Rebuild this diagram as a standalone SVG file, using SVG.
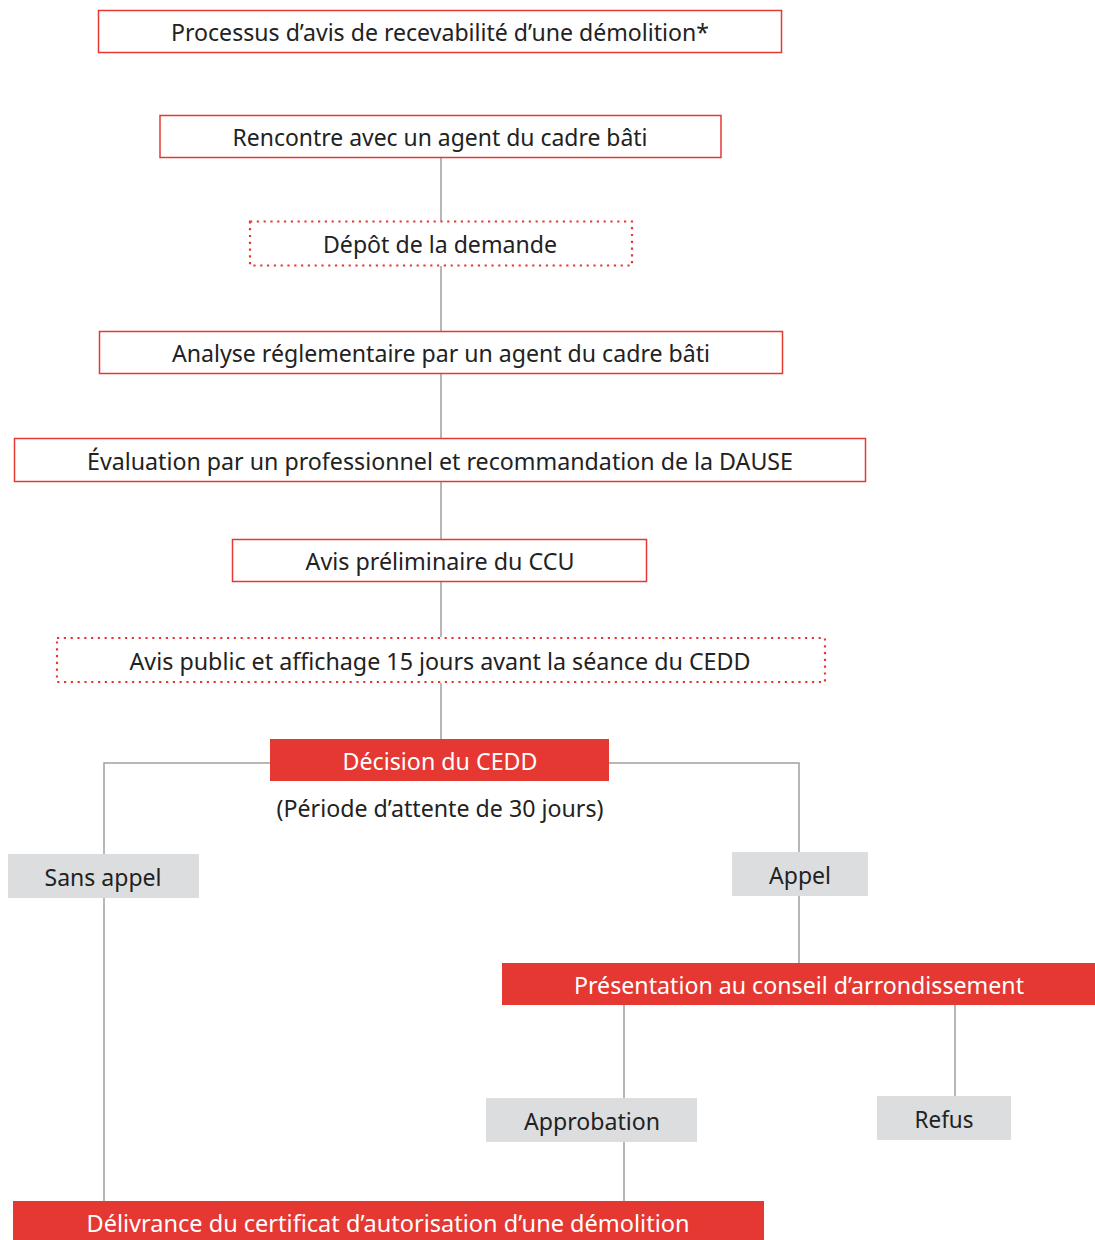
<svg xmlns="http://www.w3.org/2000/svg" width="1095" height="1240" viewBox="0 0 1095 1240">
<style>
.box{fill:#fff;stroke:#e53832;stroke-width:1.5}
.dot{fill:#fff;stroke:#e53832;stroke-width:2.2;stroke-dasharray:2.2 4.6}
.red{fill:#e53832}
.gray{fill:#dcdddf}
.t{font-family:"Noto Sans","Open Sans","DejaVu Sans",sans-serif;font-size:23px;fill:#222;text-anchor:middle}
.w{fill:#fff}
.c{stroke:#a0a0a0;stroke-width:1.5;fill:none}
</style>
<rect width="1095" height="1240" fill="#fff"/>
<g id="connectors">
<path class="c" d="M441 158V221M441 266V331M441 374V438M441 482V539M441 582V637M441 683V739"/>
<path class="c" d="M270 763H104V854M609 763H799V852M799 896V963M104 898V1201M624 1005V1098M624 1142V1201M955 1005V1096"/>
</g>
<g id="title"><rect class="box" x="98.5" y="10.5" width="683" height="42"/><text class="t" x="440" y="41" textLength="538" lengthAdjust="spacingAndGlyphs">Processus d’avis de recevabilité d’une démolition*</text></g>
<g id="rencontre"><rect class="box" x="160" y="115.5" width="561" height="42"/><text class="t" x="440" y="146" textLength="415" lengthAdjust="spacingAndGlyphs">Rencontre avec un agent du cadre bâti</text></g>
<g id="depot"><rect class="dot" x="250" y="221.5" width="382" height="44"/><text class="t" x="440" y="253" textLength="234" lengthAdjust="spacingAndGlyphs">Dépôt de la demande</text></g>
<g id="analyse"><rect class="box" x="99.5" y="331.5" width="683" height="42"/><text class="t" x="441" y="362" textLength="538" lengthAdjust="spacingAndGlyphs">Analyse réglementaire par un agent du cadre bâti</text></g>
<g id="evaluation"><rect class="box" x="14.5" y="438.5" width="851" height="43"/><text class="t" x="440" y="470" textLength="706" lengthAdjust="spacingAndGlyphs">Évaluation par un professionnel et recommandation de la DAUSE</text></g>
<g id="avis-prelim"><rect class="box" x="232.5" y="539.5" width="414" height="42"/><text class="t" x="440" y="570" textLength="269" lengthAdjust="spacingAndGlyphs">Avis préliminaire du CCU</text></g>
<g id="avis-public"><rect class="dot" x="57" y="638" width="768" height="44"/><text class="t" x="440" y="670" textLength="621" lengthAdjust="spacingAndGlyphs">Avis public et affichage 15 jours avant la séance du CEDD</text></g>
<g id="decision"><rect class="red" x="270" y="739" width="339" height="42"/><text class="t w" x="440" y="770" textLength="195" lengthAdjust="spacingAndGlyphs">Décision du CEDD</text><text class="t" x="440" y="817" textLength="327" lengthAdjust="spacingAndGlyphs">(Période d’attente de 30 jours)</text></g>
<g id="sans-appel"><rect class="gray" x="8" y="854" width="191" height="44"/><text class="t" x="103" y="886" textLength="117" lengthAdjust="spacingAndGlyphs">Sans appel</text></g>
<g id="appel"><rect class="gray" x="732" y="852" width="136" height="44"/><text class="t" x="800" y="884" textLength="62" lengthAdjust="spacingAndGlyphs">Appel</text></g>
<g id="presentation"><rect class="red" x="502" y="963" width="593" height="42"/><text class="t w" x="799" y="994" textLength="450" lengthAdjust="spacingAndGlyphs">Présentation au conseil d’arrondissement</text></g>
<g id="approbation"><rect class="gray" x="486" y="1098" width="211" height="44"/><text class="t" x="592" y="1130" textLength="136" lengthAdjust="spacingAndGlyphs">Approbation</text></g>
<g id="refus"><rect class="gray" x="877" y="1096" width="134" height="44"/><text class="t" x="944" y="1128" textLength="59" lengthAdjust="spacingAndGlyphs">Refus</text></g>
<g id="delivrance"><rect class="red" x="13" y="1201" width="751" height="39"/><text class="t w" x="388" y="1232" textLength="603" lengthAdjust="spacingAndGlyphs">Délivrance du certificat d’autorisation d’une démolition</text></g>
</svg>
